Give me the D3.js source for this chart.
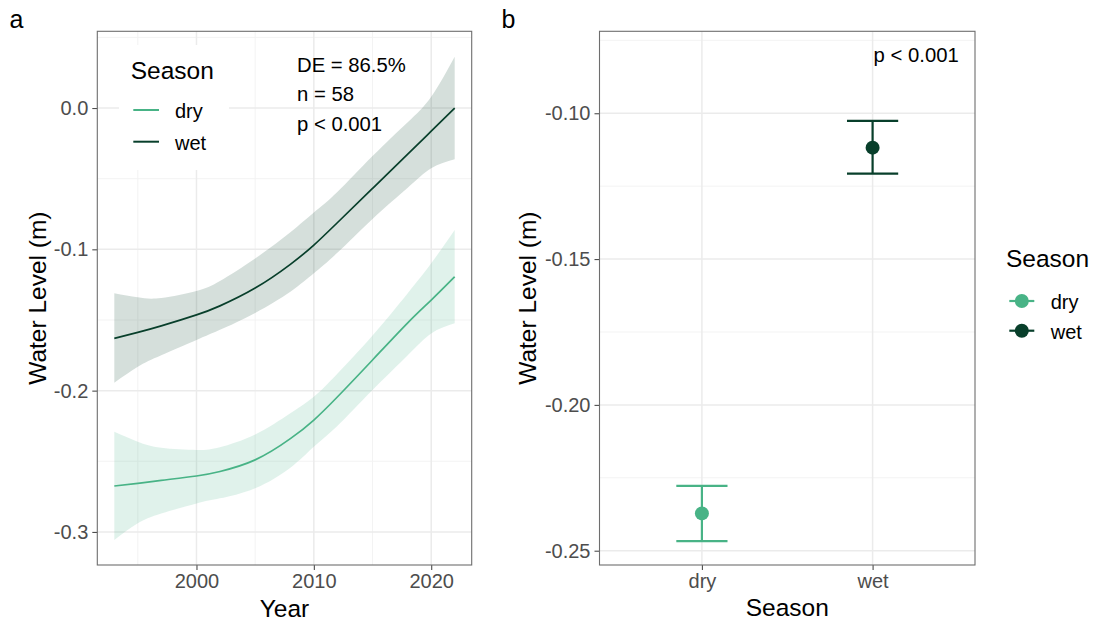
<!DOCTYPE html>
<html>
<head>
<meta charset="utf-8">
<script src="https://cdn.jsdelivr.net/npm/d3@7"></script>
<style>
  html, body { margin: 0; padding: 0; background: #fff; }
  svg { display: block; font-family: "Liberation Sans", Arial, sans-serif; }
</style>
</head>
<body>
<svg id="chart" width="1098" height="621"></svg>
<script>
// ---- Panel a: fitted water level trend by season ----
const years = [1993, 1995, 1997, 2000, 2002, 2005, 2008, 2010, 2012, 2015, 2018, 2020, 2022];
const wetFit   = [-0.163, -0.1588, -0.1542, -0.1464, -0.1400, -0.1274, -0.1106, -0.0970, -0.0812, -0.0569, -0.0326, -0.0164, 0.0];
const wetUpper = [-0.131, -0.134, -0.1345, -0.1295, -0.1225, -0.1065, -0.0880, -0.0740, -0.0595, -0.0340, -0.0100, 0.008, 0.0363];
const wetLower = [-0.1944, -0.1831, -0.1750, -0.1642, -0.1570, -0.1450, -0.1300, -0.1170, -0.1025, -0.0785, -0.0565, -0.0427, -0.0363];
const dryFit   = [-0.2675, -0.2656, -0.2635, -0.2604, -0.2572, -0.2490, -0.2340, -0.2208, -0.2045, -0.1783, -0.1520, -0.1359, -0.1194];
const dryUpper = [-0.2291, -0.2362, -0.2405, -0.2420, -0.2400, -0.2310, -0.2160, -0.2043, -0.1880, -0.1610, -0.1310, -0.1099, -0.0863];
const dryLower = [-0.3057, -0.2939, -0.2870, -0.2798, -0.2762, -0.2690, -0.2545, -0.2397, -0.2250, -0.1996, -0.1750, -0.1595, -0.1524];
const yearTicks = [2000, 2010, 2020];
const levelTicksA = [-0.3, -0.2, -0.1, 0.0];
const statsA = ["DE = 86.5%", "n = 58", "p < 0.001"];

// ---- Panel b: seasonal mean water level with intervals ----
const seasons = ["dry", "wet"];
const seasonMean  = [-0.2372, -0.1118];
const seasonLower = [-0.2467, -0.1207];
const seasonUpper = [-0.2278, -0.1026];
const levelTicksB = [-0.25, -0.20, -0.15, -0.10];
const statsB = "p < 0.001";

const colors = { dry: "#48b386", wet: "#083f2b" };
const FONT_TICK = "#4d4d4d";
const TICK_SIZE = 20;
const TITLE_SIZE = 24.5;

const svg = d3.select("#chart");

function frameGrid(g, x, y, xMajor, xMinor, yMajor, yMinor, box) {
  const grid = g.append("g");
  xMinor.forEach(v => grid.append("line").attr("x1", x(v)).attr("x2", x(v))
    .attr("y1", box.top).attr("y2", box.bottom).attr("stroke", "#f2f2f2").attr("stroke-width", 0.9));
  yMinor.forEach(v => grid.append("line").attr("y1", y(v)).attr("y2", y(v))
    .attr("x1", box.left).attr("x2", box.right).attr("stroke", "#f2f2f2").attr("stroke-width", 0.9));
  xMajor.forEach(v => grid.append("line").attr("x1", x(v)).attr("x2", x(v))
    .attr("y1", box.top).attr("y2", box.bottom).attr("stroke", "#ebebeb").attr("stroke-width", 1.5));
  yMajor.forEach(v => grid.append("line").attr("y1", y(v)).attr("y2", y(v))
    .attr("x1", box.left).attr("x2", box.right).attr("stroke", "#ebebeb").attr("stroke-width", 1.5));
}

function drawAxes(g, x, y, xTickVals, yTickVals, xFmt, yFmt, box) {
  const ax = d3.axisBottom(x).tickValues(xTickVals).tickFormat(xFmt).tickSize(5).tickPadding(4);
  const xg = g.append("g").attr("transform", `translate(0,${box.bottom})`).call(ax);
  xg.select(".domain").remove();
  xg.selectAll(".tick line").attr("stroke", "#4d4d4d").attr("stroke-width", 1.1);
  xg.selectAll(".tick text").attr("fill", FONT_TICK).attr("font-size", TICK_SIZE)
    .attr("font-family", "Liberation Sans, Arial, sans-serif");

  const ay = d3.axisLeft(y).tickValues(yTickVals).tickFormat(yFmt).tickSize(5).tickPadding(4);
  const yg = g.append("g").attr("transform", `translate(${box.left},0)`).call(ay);
  yg.select(".domain").remove();
  yg.selectAll(".tick line").attr("stroke", "#4d4d4d").attr("stroke-width", 1.1);
  yg.selectAll(".tick text").attr("fill", FONT_TICK).attr("font-size", TICK_SIZE)
    .attr("font-family", "Liberation Sans, Arial, sans-serif");

  g.append("rect").attr("x", box.left).attr("y", box.top)
    .attr("width", box.right - box.left).attr("height", box.bottom - box.top)
    .attr("fill", "none").attr("stroke", "#6e6e6e").attr("stroke-width", 1.1);
}

// ================= Panel a =================
const boxA = { left: 97.3, right: 471.7, top: 31.3, bottom: 565 };
const xA = d3.scaleLinear().domain([1991.55, 2023.45]).range([boxA.left, boxA.right]);
const yA = d3.scaleLinear().domain([-0.3234, 0.0543]).range([boxA.bottom, boxA.top]);
const gA = svg.append("g");

frameGrid(gA, xA, yA, yearTicks, [1995, 2005, 2015], levelTicksA, [-0.25, -0.15, -0.05, 0.05], boxA);

// inside legend background
gA.append("rect").attr("x", 119).attr("y", 45).attr("width", 110).attr("height", 125).attr("fill", "#fff");

const seriesA = [
  { key: "wet", fit: wetFit, lo: wetLower, hi: wetUpper, alpha: 0.17 },
  { key: "dry", fit: dryFit, lo: dryLower, hi: dryUpper, alpha: 0.17 }
];
const curve = d3.curveNatural;
const area = d3.area().x(d => xA(d.year)).y0(d => yA(d.lo)).y1(d => yA(d.hi)).curve(curve);
const line = d3.line().x(d => xA(d.year)).y(d => yA(d.fit)).curve(curve);

seriesA.forEach(s => {
  const rows = years.map((yr, i) => ({ year: yr, fit: s.fit[i], lo: s.lo[i], hi: s.hi[i] }));
  gA.append("path").datum(rows).attr("d", area)
    .attr("fill", colors[s.key]).attr("fill-opacity", s.alpha);
  gA.append("path").datum(rows).attr("d", line)
    .attr("fill", "none").attr("stroke", colors[s.key]).attr("stroke-width", 1.7);
});

drawAxes(gA, xA, yA, yearTicks, levelTicksA, d => String(d), d => d.toFixed(1), boxA);

// inside legend
gA.append("text").attr("x", 130.7).attr("y", 79.3).attr("font-size", TITLE_SIZE).attr("fill", "#000").text("Season");
[["dry", 110, 118], ["wet", 141.7, 149.5]].forEach(([k, ly, ty]) => {
  gA.append("line").attr("x1", 133.3).attr("x2", 159).attr("y1", ly).attr("y2", ly)
    .attr("stroke", colors[k]).attr("stroke-width", 2);
  gA.append("text").attr("x", 175).attr("y", ty).attr("font-size", 20).attr("fill", "#000").text(k);
});

// model statistics
statsA.forEach((t, i) => {
  gA.append("text").attr("x", 297).attr("y", 71.7 + i * 29.6).attr("font-size", 20.3).attr("fill", "#000").text(t);
});

// axis titles
gA.append("text").attr("x", (boxA.left + boxA.right) / 2).attr("y", 617).attr("text-anchor", "middle")
  .attr("font-size", TITLE_SIZE).attr("fill", "#000").text("Year");
gA.append("text").attr("transform", `translate(45.5,${(boxA.top + boxA.bottom) / 2}) rotate(-90)`)
  .attr("text-anchor", "middle").attr("font-size", TITLE_SIZE).attr("fill", "#000").text("Water Level (m)");
svg.append("text").attr("x", 9.5).attr("y", 28).attr("font-size", 25).attr("fill", "#000").text("a");

// ================= Panel b =================
const boxB = { left: 599.5, right: 975, top: 31.3, bottom: 565 };
const xB = d3.scalePoint().domain(seasons).range([boxB.left, boxB.right]).padding(0.6);
const yB = d3.scaleLinear().domain([-0.2549, -0.0719]).range([boxB.bottom, boxB.top]);
const gB = svg.append("g");

frameGrid(gB, xB, yB, seasons, [], levelTicksB, [-0.225, -0.175, -0.125, -0.075], boxB);

const capHalf = xB.step() * 0.15;
seasons.forEach((s, i) => {
  const cx = xB(s);
  const c = colors[s];
  gB.append("line").attr("x1", cx).attr("x2", cx).attr("y1", yB(seasonLower[i])).attr("y2", yB(seasonUpper[i]))
    .attr("stroke", c).attr("stroke-width", 2.2);
  [seasonLower[i], seasonUpper[i]].forEach(v => {
    gB.append("line").attr("x1", cx - capHalf).attr("x2", cx + capHalf).attr("y1", yB(v)).attr("y2", yB(v))
      .attr("stroke", c).attr("stroke-width", 2.3);
  });
  gB.append("circle").attr("cx", cx).attr("cy", yB(seasonMean[i])).attr("r", 7).attr("fill", c);
});

drawAxes(gB, xB, yB, seasons, levelTicksB, d => d, d => d.toFixed(2), boxB);

gB.append("text").attr("x", xB("wet") + 1).attr("y", 61.7).attr("font-size", 20.3).attr("fill", "#000").text(statsB);

gB.append("text").attr("x", (boxB.left + boxB.right) / 2).attr("y", 616).attr("text-anchor", "middle")
  .attr("font-size", TITLE_SIZE).attr("fill", "#000").text("Season");
gB.append("text").attr("transform", `translate(536,${(boxB.top + boxB.bottom) / 2}) rotate(-90)`)
  .attr("text-anchor", "middle").attr("font-size", TITLE_SIZE).attr("fill", "#000").text("Water Level (m)");
svg.append("text").attr("x", 501.5).attr("y", 28).attr("font-size", 25).attr("fill", "#000").text("b");

// outside legend
gB.append("text").attr("x", 1006).attr("y", 267.3).attr("font-size", TITLE_SIZE).attr("fill", "#000").text("Season");
[["dry", 301, 308.5], ["wet", 330.7, 338.5]].forEach(([k, ly, ty]) => {
  gB.append("line").attr("x1", 1009.3).attr("x2", 1034.3).attr("y1", ly).attr("y2", ly)
    .attr("stroke", colors[k]).attr("stroke-width", 2.2);
  gB.append("circle").attr("cx", 1021.8).attr("cy", ly).attr("r", 7).attr("fill", colors[k]);
  gB.append("text").attr("x", 1050.7).attr("y", ty).attr("font-size", 20).attr("fill", "#000").text(k);
});
</script>
</body>
</html>
